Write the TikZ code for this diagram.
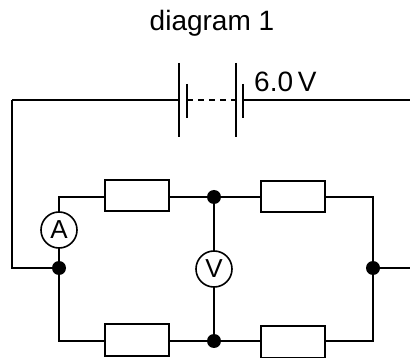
\documentclass[tikz,border=0pt]{standalone}
\usepackage{fontspec}
\setmainfont{Liberation Sans}
\begin{document}
\begin{tikzpicture}[x=1pt,y=-1pt,
  wire/.style={line width=2pt,line cap=butt},
  plate/.style={line width=2.5pt},
  resistor/.style={draw,line width=2pt,minimum width=64pt,minimum height=31pt,inner sep=0pt,fill=white},
  meter/.style={draw,circle,line width=1.6pt,minimum size=36pt,inner sep=0pt,fill=white,font=\fontsize{26}{28}\selectfont},
  junction/.style={circle,fill=black,minimum size=14pt,inner sep=0pt},
  lbl/.style={font=\fontsize{28}{32}\selectfont,inner sep=0pt}]
\useasboundingbox (0,0) rectangle (410,358);
% title
\node[lbl,anchor=base] (title) at (212,31) {diagram 1};
% battery
\coordinate (TL) at (12,100);
\coordinate (TR) at (410,100);
\coordinate (P1) at (179,100);
\coordinate (P2) at (187,100);
\coordinate (P3) at (236,100);
\coordinate (P4) at (243,100);
\draw[plate] (179,63) -- (179,137);
\draw[plate] (187,84) -- (187,118);
\draw[plate] (236,63) -- (236,137);
\draw[plate] (243,84) -- (243,118);
\draw[wire] (TL) -- (P1);
\draw[wire] (P4) -- (TR);
\draw[wire,dash pattern=on 6pt off 5pt] (P2) -- (P3);
\node[lbl,anchor=base west] (emf) at (254,92) {6.0\,V};
% circuit
\coordinate (LW) at (12,268);
\node[junction] (J1) at (59,268) {};
\node[junction] (J2) at (214,197) {};
\node[junction] (J3) at (373,268) {};
\node[junction] (J4) at (214,341) {};
\coordinate (RE) at (410,268);
\coordinate (TLc) at (59,197);
\coordinate (BLc) at (59,341);
\coordinate (TRc) at (373,197);
\coordinate (BRc) at (373,341);
\draw[wire] (TL) -- (LW) -- (J1);
\draw[wire] (J1) -- (BLc) -- (J4) -- (BRc) -- (TRc) -- (J2) -- (TLc) -- (J1);
\draw[wire] (J3) -- (RE);
\draw[wire] (J2) -- (J4);
\node[meter] (A) at (59,230) {A};
\node[meter] (V) at (214,269) {V};
\node[resistor] (R1) at (137,196) {};
\node[resistor] (R2) at (293,197) {};
\node[resistor] (R3) at (137,340) {};
\node[resistor] (R4) at (293,342) {};
\end{tikzpicture}
\end{document}
